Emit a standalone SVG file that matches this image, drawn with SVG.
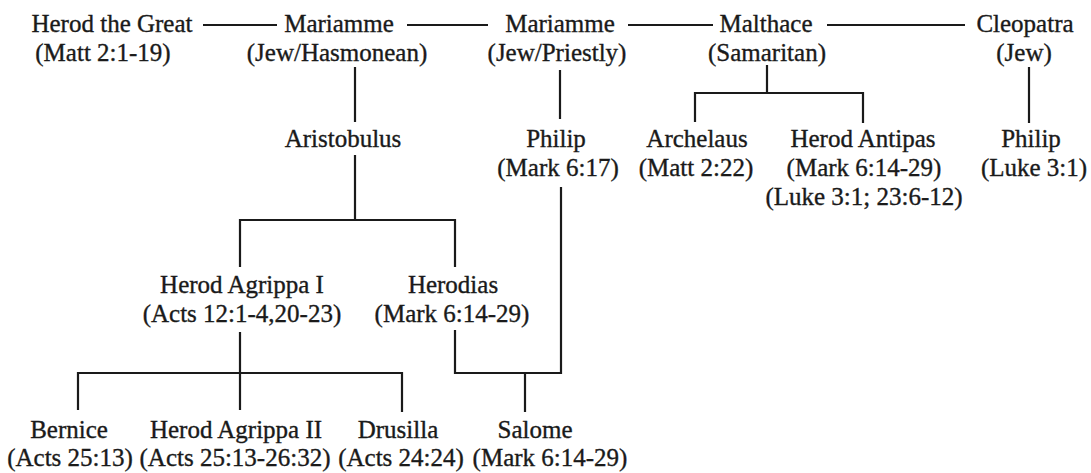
<svg xmlns="http://www.w3.org/2000/svg" width="1091" height="473" viewBox="0 0 1091 473">
<style>
.t text{font-size:25px;fill:#1a1a1a;stroke:#1a1a1a;stroke-width:0.35;text-anchor:middle}
.c path{fill:none;stroke:#1a1a1a;stroke-width:2.2;stroke-linecap:butt;stroke-linejoin:miter}
</style>
<rect width="1091" height="473" fill="#ffffff"/>
<g class="c" id="connectors">
<path d="M203 25H277"/>
<path d="M407 25H488"/>
<path d="M628 25H713"/>
<path d="M827 25H965"/>
<path d="M355 67V122"/>
<path d="M355 155V220M240 267V220H455V267"/>
<path d="M560 70V119"/>
<path d="M767 65V93M695 122V93H863V123"/>
<path d="M1029 67V123"/>
<path d="M561 187V373H455V330M525 373V412"/>
<path d="M240 332V410M78 410V373H402V412"/>
</g>
<g class="t" font-family="Liberation Serif, Times New Roman, DejaVu Serif, serif">
<g id="herod-the-great"><text x="112" y="32">Herod the Great</text><text x="103" y="61">(Matt 2:1-19)</text></g>
<g id="mariamme-hasmonean"><text x="339" y="32">Mariamme</text><text x="337" y="61">(Jew/Hasmonean)</text></g>
<g id="mariamme-priestly"><text x="560" y="32">Mariamme</text><text x="557" y="61">(Jew/Priestly)</text></g>
<g id="malthace"><text x="766" y="32">Malthace</text><text x="767" y="61">(Samaritan)</text></g>
<g id="cleopatra"><text x="1025" y="32">Cleopatra</text><text x="1024" y="61">(Jew)</text></g>
<g id="aristobulus"><text x="343" y="147">Aristobulus</text></g>
<g id="philip-1"><text x="556" y="147">Philip</text><text x="558" y="176">(Mark 6:17)</text></g>
<g id="archelaus"><text x="697" y="147">Archelaus</text><text x="696" y="176">(Matt 2:22)</text></g>
<g id="herod-antipas"><text x="863" y="147">Herod Antipas</text><text x="864" y="176">(Mark 6:14-29)</text><text x="864" y="205">(Luke 3:1; 23:6-12)</text></g>
<g id="philip-2"><text x="1031" y="147">Philip</text><text x="1034" y="176">(Luke 3:1)</text></g>
<g id="herod-agrippa-1"><text x="242" y="293">Herod Agrippa I</text><text x="242" y="322">(Acts 12:1-4,20-23)</text></g>
<g id="herodias"><text x="453" y="293">Herodias</text><text x="452" y="322">(Mark 6:14-29)</text></g>
<g id="bernice"><text x="69" y="438">Bernice</text><text x="70" y="466">(Acts 25:13)</text></g>
<g id="herod-agrippa-2"><text x="236" y="438">Herod Agrippa II</text><text x="235" y="466">(Acts 25:13-26:32)</text></g>
<g id="drusilla"><text x="398" y="438">Drusilla</text><text x="401" y="466">(Acts 24:24)</text></g>
<g id="salome"><text x="535" y="438">Salome</text><text x="550" y="466">(Mark 6:14-29)</text></g>
</g>
</svg>
